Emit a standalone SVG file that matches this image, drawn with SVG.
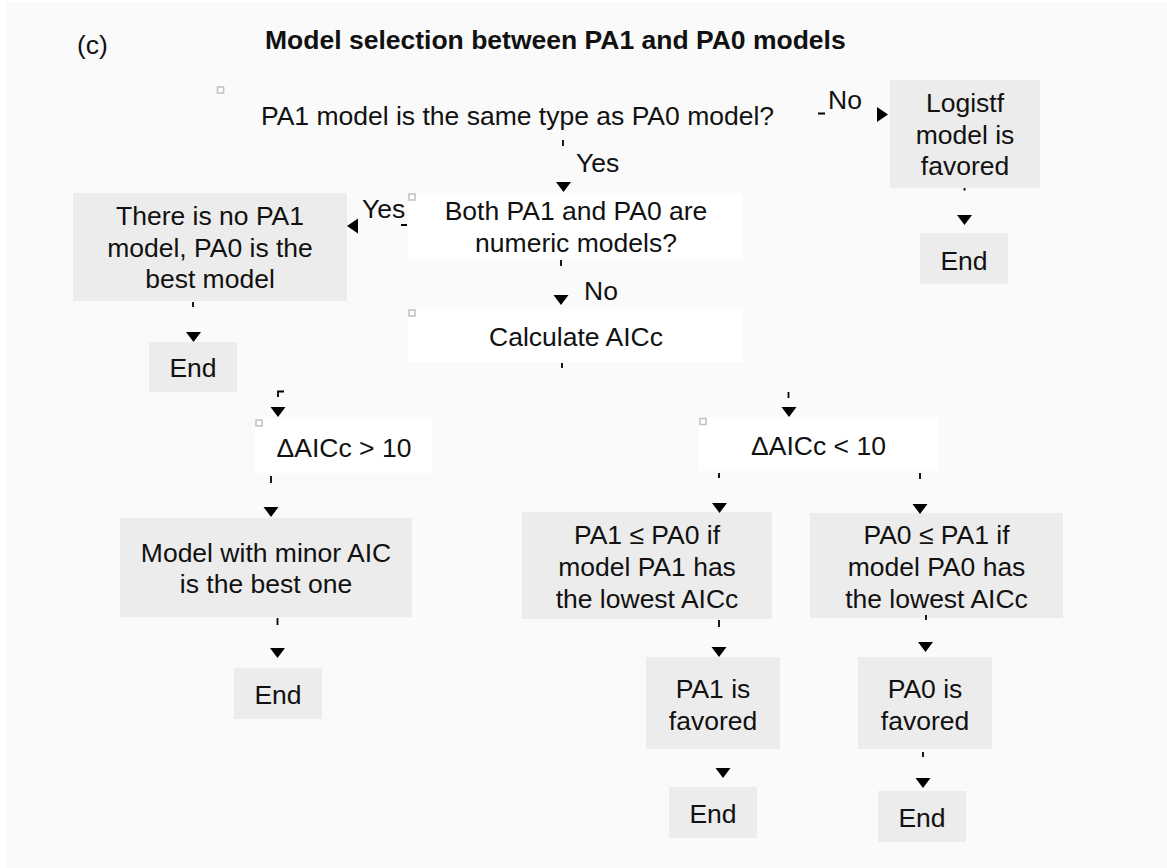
<svg xmlns="http://www.w3.org/2000/svg" xmlns:xlink="http://www.w3.org/1999/xlink" width="1167" height="868" viewBox="0 0 1167 868">
<style>
text{font-family:"Liberation Sans",Arial,sans-serif;font-size:26.5px;fill:#111}
.t{text-anchor:middle}
.b{font-weight:bold}
.g{fill:#ececec}
.w{fill:#ffffff}
.n{fill:#fafafa}
.sq{fill:#ffffff;stroke:#c4c4c4;stroke-width:1.6}
.stub{stroke:#000;stroke-width:1.8;fill:none}
.ah{fill:#000}
</style>
<defs>
<path id="ad" d="M-7.5,-10 L7.5,-10 L0,0 Z"/>
<path id="ar" d="M-11,-7.5 L-11,7.5 L0,0 Z"/>
<path id="al" d="M11,-7.5 L11,7.5 L0,0 Z"/>
<rect id="sq" x="0" y="0" width="6" height="6"/>
</defs>
<rect x="6" y="2" width="1161" height="866" fill="#fafafa"/>
<g id="labels">
<text x="77" y="54">(c)</text>
<text class="b" x="265" y="49">Model selection between PA1 and PA0 models</text>
</g>
<g id="n-same-type">
<rect class="n" x="217" y="86" width="601" height="56"/>
<use href="#sq" class="sq" x="217.5" y="87"/>
<text class="t" x="517.5" y="124.5">PA1 model is the same type as PA0 model?</text>
</g>
<g id="n-logistf">
<rect class="g" x="890" y="80" width="150" height="108"/>
<text class="t" x="965" y="112">Logistf</text>
<text class="t" x="965" y="143.5">model is</text>
<text class="t" x="965" y="175">favored</text>
</g>
<g id="n-end1">
<rect class="g" x="920" y="233" width="88" height="51"/>
<text class="t" x="964" y="270">End</text>
</g>
<g id="n-both">
<rect class="w" x="408" y="193" width="335" height="66"/>
<use href="#sq" class="sq" x="409" y="194"/>
<text class="t" x="576" y="220">Both PA1 and PA0 are</text>
<text class="t" x="576" y="251.5">numeric models?</text>
</g>
<g id="n-nopa1">
<rect class="g" x="73" y="193" width="274" height="108"/>
<text class="t" x="210" y="224.5">There is no PA1</text>
<text class="t" x="210" y="256.5">model, PA0 is the</text>
<text class="t" x="210" y="288">best model</text>
</g>
<g id="n-end2">
<rect class="g" x="149" y="342" width="88" height="50"/>
<text class="t" x="193" y="377">End</text>
</g>
<g id="n-calc">
<rect class="w" x="408" y="309" width="335" height="53"/>
<use href="#sq" class="sq" x="409" y="310"/>
<text class="t" x="576" y="346">Calculate AICc</text>
</g>
<g id="n-gt10">
<rect class="w" x="255" y="419" width="177" height="54"/>
<use href="#sq" class="sq" x="256" y="420"/>
<text class="t" x="344" y="457">ΔAICc &gt; 10</text>
</g>
<g id="n-lt10">
<rect class="w" x="699" y="417" width="239" height="54"/>
<use href="#sq" class="sq" x="700" y="418.5"/>
<text class="t" x="818.5" y="455">ΔAICc &lt; 10</text>
</g>
<g id="n-minor">
<rect class="g" x="120" y="518" width="292" height="99"/>
<text class="t" x="266" y="562">Model with minor AIC</text>
<text class="t" x="266" y="593">is the best one</text>
</g>
<g id="n-end3">
<rect class="g" x="234" y="668" width="88" height="51"/>
<text class="t" x="278" y="704">End</text>
</g>
<g id="n-pa1le">
<rect class="g" x="522" y="512" width="250" height="107"/>
<text class="t" x="647" y="544">PA1 ≤ PA0 if</text>
<text class="t" x="647" y="576">model PA1 has</text>
<text class="t" x="647" y="608">the lowest AICc</text>
</g>
<g id="n-pa0le">
<rect class="g" x="810" y="513" width="253" height="105"/>
<text class="t" x="936.5" y="544">PA0 ≤ PA1 if</text>
<text class="t" x="936.5" y="576">model PA0 has</text>
<text class="t" x="936.5" y="608">the lowest AICc</text>
</g>
<g id="n-pa1fav">
<rect class="g" x="646" y="657" width="134" height="92"/>
<text class="t" x="713" y="698">PA1 is</text>
<text class="t" x="713" y="730">favored</text>
</g>
<g id="n-pa0fav">
<rect class="g" x="858" y="657" width="134" height="92"/>
<text class="t" x="925" y="698">PA0 is</text>
<text class="t" x="925" y="730">favored</text>
</g>
<g id="n-end4">
<rect class="g" x="669" y="787" width="88" height="51"/>
<text class="t" x="713" y="823">End</text>
</g>
<g id="n-end5">
<rect class="g" x="878" y="791" width="88" height="51"/>
<text class="t" x="922" y="827">End</text>
</g>
<g id="connectors">
<path class="stub" d="M818,113.5 H825 M563,140 V146 M964.5,188 V190.5 M401,225 H407 M193,302 V307 M561,260 V266 M562,363 V368 M284,391.5 H278 V397 M788.5,392 V398 M271,476 V483 M277.5,618 V625 M719,473 V478 M920,473 V479 M719,620 V627 M926,615 V620 M923,752 V757"/>
<use href="#ar" class="ah" x="888" y="114.5"/>
<use href="#al" class="ah" x="347" y="226"/>
<use href="#ad" class="ah" x="563.5" y="192"/>
<use href="#ad" class="ah" x="964.5" y="225"/>
<use href="#ad" class="ah" x="193.5" y="342"/>
<use href="#ad" class="ah" x="561" y="305"/>
<use href="#ad" class="ah" x="278" y="417"/>
<use href="#ad" class="ah" x="789" y="417"/>
<use href="#ad" class="ah" x="271" y="517"/>
<use href="#ad" class="ah" x="277.5" y="658"/>
<use href="#ad" class="ah" x="719.5" y="513"/>
<use href="#ad" class="ah" x="920" y="514"/>
<use href="#ad" class="ah" x="719" y="657"/>
<use href="#ad" class="ah" x="925.5" y="652"/>
<use href="#ad" class="ah" x="723" y="778"/>
<use href="#ad" class="ah" x="923" y="788"/>
<text x="828" y="109">No</text>
<text x="576" y="172">Yes</text>
<text x="362" y="218">Yes</text>
<text x="584" y="300">No</text>
</g>
</svg>
